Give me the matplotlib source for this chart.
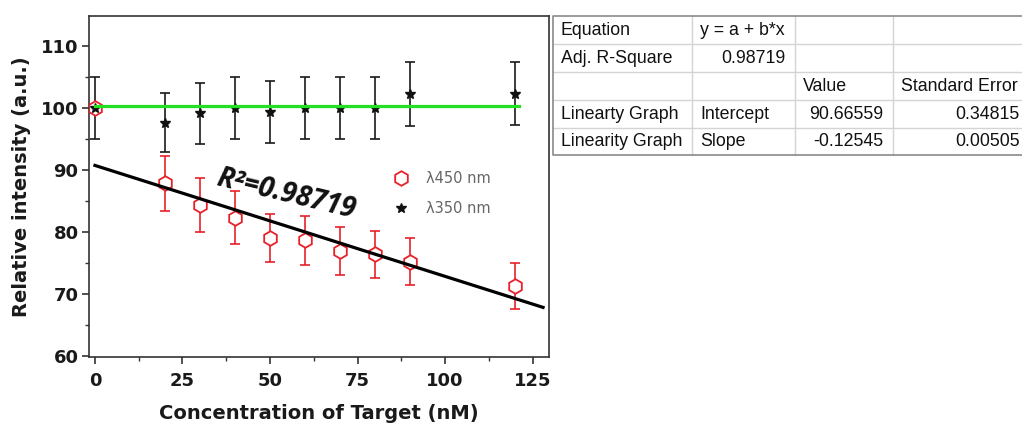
import matplotlib.pyplot as plt

plt.rcParams['font.family'] = ['Liberation Sans', 'DejaVu Sans']

# Data
conc = [0, 20, 30, 40, 50, 60, 70, 80, 90, 120]
i450 = [100.0, 87.8, 84.3, 82.3, 79.0, 78.6, 76.9, 76.4, 75.2, 71.2]
err450 = [0, 4.4, 4.3, 4.2, 3.9, 4.0, 3.9, 3.8, 3.8, 3.7]
i350 = [100.0, 97.6, 99.1, 100.0, 99.3, 100.0, 100.0, 100.0, 102.2, 102.3]
err350 = [5.0, 4.8, 4.9, 5.0, 5.0, 5.0, 5.0, 5.0, 5.2, 5.1]

# Drawn fit line and flat reference line (end points as seen in the picture)
fit_x = [0, 128]
fit_y = [90.7, 67.8]
flat_x = [0, 121]
flat_y = [100.3, 100.3]

# Fit report table
table_cells = [
    ['Equation', 'y = a + b*x', '', ''],
    ['Adj. R-Square', '0.98719', '', ''],
    ['', '', 'Value', 'Standard Error'],
    ['Linearty Graph', 'Intercept', '90.66559', '0.34815'],
    ['Linearity Graph', 'Slope', '-0.12545', '0.00505'],
]
right_aligned = [
    [False, False, False, False],
    [False, True, False, False],
    [False, False, False, False],
    [False, False, True, True],
    [False, False, True, True],
]

fig = plt.figure(figsize=(10.22, 4.28), dpi=100)
ax = fig.add_axes([89 / 1022, 1 - 357 / 428, 460 / 1022, 341 / 428])

ax.errorbar(conc, i350, yerr=err350, fmt='none', ecolor='#1a1a1a',
            elinewidth=1.2, capsize=3.5, capthick=1.2, zorder=2)
ax.errorbar(conc[1:], i450[1:], yerr=err450[1:], fmt='none', ecolor='#e8202a',
            elinewidth=1.2, capsize=3.5, capthick=1.2, zorder=2)
ax.plot(conc, i450, linestyle='none', marker='h', markersize=10.5,
        markerfacecolor='white', markeredgecolor='#e8202a', markeredgewidth=1.3,
        label='λ450 nm', zorder=3)
ax.plot(conc, i350, linestyle='none', marker='*', markersize=7,
        color='#111111', label='λ350 nm', zorder=3)

ax.plot(fit_x, fit_y, color='black', linewidth=2.3, zorder=4)
ax.plot(flat_x, flat_y, color='#22e022', linewidth=2.3, zorder=4)

ax.text(54.6, 86.0, 'R²=0.98719', fontsize=20, style='italic', weight='bold',
        family=['Open Sans', 'DejaVu Sans'], rotation=-13.5, rotation_mode='anchor',
        ha='center', va='center', color='#111111', zorder=5)

leg = ax.legend(loc='upper left', bbox_to_anchor=(0.662, 0.545), frameon=False,
                prop={'family': 'DejaVu Sans', 'size': 10.5},
                handlelength=1.0, handletextpad=1.2,
                labelspacing=1.0, borderpad=0, borderaxespad=0)
for t in leg.get_texts():
    t.set_color('#666666')

ax.set_xlim(-1.7, 129.7)
ax.set_ylim(59.8, 114.8)
ax.set_xticks([0, 25, 50, 75, 100, 125])
ax.set_xticks([12.5, 37.5, 62.5, 87.5, 112.5], minor=True)
ax.set_yticks([60, 70, 80, 90, 100, 110])
ax.set_yticks([65, 75, 85, 95, 105], minor=True)
ax.tick_params(which='major', length=5, width=1.2, color='#333333')
ax.tick_params(which='minor', length=3, width=1.0, color='#333333')
ax.tick_params(axis='x', which='major', pad=6, labelsize=13)
ax.tick_params(axis='y', which='major', pad=2.5, labelsize=13)
for lab in ax.get_xticklabels() + ax.get_yticklabels():
    lab.set_fontweight('bold')
    lab.set_family('DejaVu Sans')
    lab.set_color('#1a1a1a')
for sp in ax.spines.values():
    sp.set_linewidth(1.2)
    sp.set_color('#333333')

ax.set_xlabel('Concentration of Target (nM)', fontsize=14, fontweight='bold',
              family='DejaVu Sans', labelpad=10, color='#1a1a1a')
ax.set_ylabel('Relative intensity (a.u.)', fontsize=14, fontweight='bold',
              family='DejaVu Sans', labelpad=7, color='#1a1a1a')

# Table drawn in pixel coordinates on an overlay
tab = fig.add_axes([0, 0, 1, 1], zorder=-1)
tab.set_xlim(0, 1022)
tab.set_ylim(428, 0)
tab.axis('off')
row_edges = [16, 44, 72, 100, 128, 155]
col_edges = [553, 692, 795, 893, 1030]
for y in row_edges[1:-1]:
    tab.plot([553, 1030], [y, y], color='#d4d4d4', linewidth=1)
for x in col_edges[1:-1]:
    tab.plot([x, x], [16, 155], color='#d4d4d4', linewidth=1)
tab.plot([1030, 553, 553, 1030], [16, 16, 155, 155], color='#8a8a8a', linewidth=1.2)
for r, row in enumerate(table_cells):
    yc = (row_edges[r] + row_edges[r + 1]) / 2
    for c, txt in enumerate(row):
        if not txt:
            continue
        if right_aligned[r][c]:
            right = col_edges[c + 1] - 10 if c < 3 else 1020
            tab.text(right, yc, txt, ha='right', va='center', fontsize=12.8, color='#111111')
        else:
            tab.text(col_edges[c] + 8, yc, txt, ha='left', va='center', fontsize=12.8, color='#111111')

fig.savefig('out.png', dpi=100)
